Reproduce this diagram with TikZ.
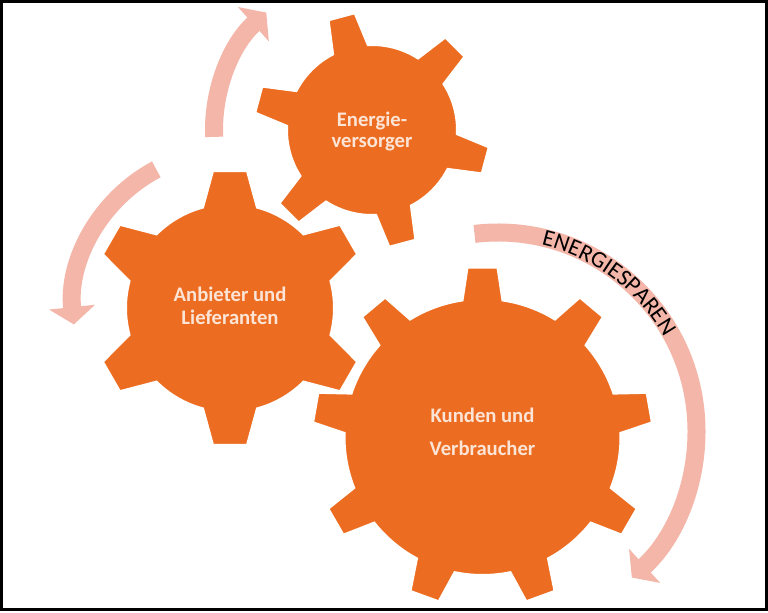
\documentclass[tikz,border=0pt]{standalone}
\usepackage{fontspec}
\setmainfont{Carlito}
\usetikzlibrary{arrows.meta}
\usetikzlibrary{decorations.text}

\definecolor{gearorange}{RGB}{236,109,33}
\definecolor{gearcream}{RGB}{252,228,214}
\definecolor{turnpink}{RGB}{243,182,168}

\begin{document}
\begin{tikzpicture}[x=0.75pt,y=0.75pt,
  gearlabel/.style={text=gearcream,font=\bfseries\fontsize{15.5}{17}\selectfont,align=center},
  turn/.style={draw=turnpink,line width=13.5pt,-{Triangle[width=34pt,length=13pt]}}]
\useasboundingbox (0,0) rectangle (768,612);
\fill[white] (0,0) rectangle (768,612);
\draw[line width=2.25pt] (1.5,2.5) rectangle (766.5,610.5);

\coordinate (versorgerC) at (372,482);
\coordinate (anbieterC) at (230,304);
\coordinate (kundenC) at (482.5,175);
\coordinate (sparC) at (498,181);

% gears: centre / body radius / tip radius / teeth / first tooth / half widths
\foreach \g/\rb/\rt/\n/\ph/\wb/\wt in {versorgerC/85/118/6/45/18/13.5,
    anbieterC/104/138/6/30/27/17, kundenC/138/170/9/10/20/15}{
  \pgfmathsetmacro\db{asin(\wb/\rb)}
  \pgfmathsetmacro\dt{asin(\wt/\rt)}
  \pgfmathsetmacro\st{360/\n}
  \fill[gearorange,draw=white,line width=1.5pt,shift={(\g)}] ({\ph+\st-\db}:\rb)
    \foreach \k in {1,...,\n}{
      -- ({\ph+\k*\st-\dt}:\rt) -- ({\ph+\k*\st+\dt}:\rt) -- ({\ph+\k*\st+\db}:\rb)
      arc[start angle={\ph+\k*\st+\db}, end angle={\ph+(\k+1)*\st-\db}, radius=\rb]
    } -- cycle;
}

\node[gearlabel] (versorger) at (372,480) {Energie-\\[-1.25pt]versorger};
\node[gearlabel] (anbieter) at (230,306) {Anbieter und\\Lieferanten};
\node[gearlabel] (kunden) at (482.5,180) {Kunden und\\[7.75pt]Verbraucher};

% turning arrows
\draw[turn] ([shift={(182.5:158)}]versorgerC) arc[start angle=182.5, end angle=132, radius=158];
\draw[turn] ([shift={(118:157)}]anbieterC) arc[start angle=118, end angle=186, radius=157];
\draw[turn] ([shift={(96.8:198.5)}]sparC) arc[start angle=96.8, end angle=-47.6, radius=198.5];
\path[decorate,decoration={text along path,text align=center,
    text={|\fontsize{17.5}{20}\selectfont|ENERGIESPAREN}}]
  ([shift={(80.4:191)}]sparC) arc[start angle=80.4, end angle=26, radius=191];
\end{tikzpicture}
\end{document}
